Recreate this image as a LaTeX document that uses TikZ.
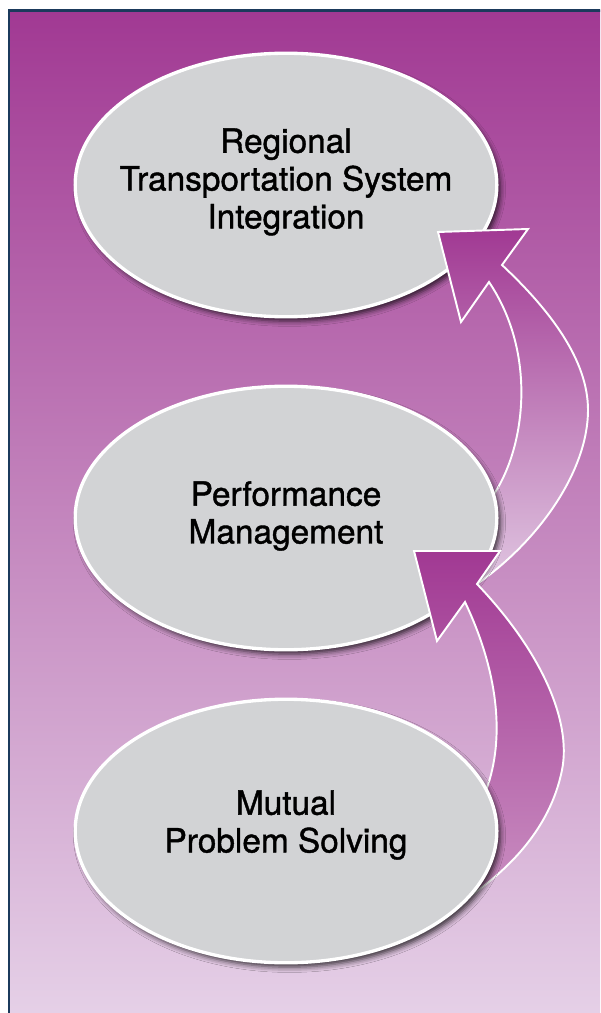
\documentclass[tikz,border=0pt]{standalone}
\usepackage{fontspec}
\setmainfont{TeX Gyre Heros}
\usetikzlibrary{shapes.geometric}
\usetikzlibrary{shadows.blur}
\definecolor{frameblue}{RGB}{27,58,92}
\definecolor{plumtop}{RGB}{161,57,147}
\definecolor{plummid}{RGB}{188,118,181}
\definecolor{plumlow}{RGB}{229,208,231}
\definecolor{bubblegray}{RGB}{210,211,213}
\definecolor{arrowpale}{RGB}{224,198,225}
\definecolor{arrowsoft}{RGB}{202,144,194}
\tikzset{
 bubble/.style={ellipse, fill=bubblegray, draw=white, line width=1.9pt, minimum width=240pt, minimum height=150pt, inner sep=0pt,
  blur shadow={shadow xshift=2pt, shadow yshift=-2.5pt, shadow blur radius=3pt, shadow opacity=75}},
 bubbletext/.style={align=center, font=\fontsize{19}{21.5}\selectfont\addfontfeature{FakeBold=1.2}, text=black, inner sep=0pt},
 bendarrow/.style={draw=white, line width=1.1pt, line join=miter}
}

\begin{document}
\begin{tikzpicture}[x=0.02cm, y=-0.02cm]
\useasboundingbox (0,0) rectangle (600,1013);
\clip (0,0) rectangle (600,1013);
\shade[top color=plumtop, middle color=plummid, bottom color=plumlow] (9,10.5) rectangle (600,1013);
\draw[frameblue, line width=1.7pt] (9,1030) -- (9,10.5) -- (620,10.5);

\node[bubble] (integration) at (286,185) {};
\node[bubbletext] (integration text) at (286,182) {Regional\\Transportation System\\Integration};

\shade[bendarrow, top color=plumtop, bottom color=arrowpale]
 (438,232) -- (528,229) -- (502,265)
 .. controls (550,310) and (588,360) .. (588,410)
 .. controls (588,470) and (540,540) .. (477,584)
 -- (452,556) -- (492,497)
 .. controls (525,450) and (538,355) .. (489,282)
 -- (461,322) -- cycle;

\node[bubble] (performance) at (286,518) {};
\node[bubbletext] (performance text) at (286,516) {Performance\\Management};

\shade[bendarrow, top color=plumtop, bottom color=arrowsoft]
 (414,551) -- (500,551) -- (477,584)
 .. controls (540,650) and (572,720) .. (562,770)
 .. controls (550,830) and (506,874) .. (455,906)
 -- (440,860) -- (482,800)
 .. controls (505,750) and (502,680) .. (465,602)
 -- (437,641) -- cycle;

\node[bubble] (solving) at (286,831) {};
\node[bubbletext] (solving text) at (286,825) {Mutual\\Problem Solving};
\end{tikzpicture}
\end{document}
